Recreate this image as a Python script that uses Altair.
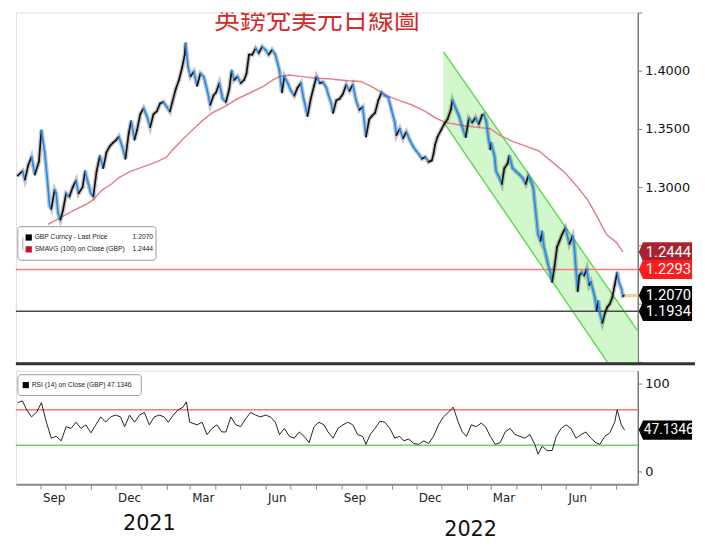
import altair as alt
import pandas as pd
import numpy as np

title_text = "英鎊兌美元日線圖"

price_dates = [
    "2020-08-04", "2020-08-10", "2020-08-13", "2020-08-17", "2020-08-21", "2020-08-25", "2020-08-30",
    "2020-09-02", "2020-09-06", "2020-09-10", "2020-09-12", "2020-09-14", "2020-09-18", "2020-09-20",
    "2020-09-22", "2020-09-25", "2020-09-28", "2020-10-02", "2020-10-06", "2020-10-10", "2020-10-14",
    "2020-10-17", "2020-10-22", "2020-10-25", "2020-10-29", "2020-11-01", "2020-11-04", "2020-11-08",
    "2020-11-12", "2020-11-16", "2020-11-20", "2020-11-24", "2020-11-28", "2020-12-02", "2020-12-05",
    "2020-12-09", "2020-12-13", "2020-12-17", "2020-12-20", "2020-12-24", "2020-12-27", "2020-12-31",
    "2021-01-04", "2021-01-08", "2021-01-12", "2021-01-16", "2021-01-20", "2021-01-24", "2021-01-28",
    "2021-02-01", "2021-02-05", "2021-02-08", "2021-02-12", "2021-02-16", "2021-02-20", "2021-02-23",
    "2021-02-24", "2021-02-27", "2021-03-02", "2021-03-06", "2021-03-10", "2021-03-14", "2021-03-18",
    "2021-03-22", "2021-03-26", "2021-03-30", "2021-04-02", "2021-04-06", "2021-04-10", "2021-04-14",
    "2021-04-18", "2021-04-21", "2021-04-24", "2021-04-28", "2021-05-02", "2021-05-06", "2021-05-09",
    "2021-05-12", "2021-05-16", "2021-05-20", "2021-05-24", "2021-05-28", "2021-06-01", "2021-06-05",
    "2021-06-09", "2021-06-13", "2021-06-15", "2021-06-18", "2021-06-21", "2021-06-24", "2021-06-28",
    "2021-07-02", "2021-07-06", "2021-07-10", "2021-07-14", "2021-07-17", "2021-07-20", "2021-07-22",
    "2021-07-26", "2021-07-30", "2021-08-02", "2021-08-06", "2021-08-10", "2021-08-14", "2021-08-16",
    "2021-08-20", "2021-08-22", "2021-08-26", "2021-08-30", "2021-09-03", "2021-09-07", "2021-09-11",
    "2021-09-15", "2021-09-19", "2021-09-23", "2021-09-27", "2021-10-01", "2021-10-05", "2021-10-08",
    "2021-10-12", "2021-10-16", "2021-10-20", "2021-10-24", "2021-10-28", "2021-11-01", "2021-11-05",
    "2021-11-07", "2021-11-11", "2021-11-15", "2021-11-19", "2021-11-23", "2021-11-27", "2021-12-01",
    "2021-12-04", "2021-12-08", "2021-12-12", "2021-12-16", "2021-12-20", "2021-12-22", "2021-12-24",
    "2021-12-27", "2021-12-31", "2022-01-04", "2022-01-08", "2022-01-12", "2022-01-14", "2022-01-18",
    "2022-01-22", "2022-01-26", "2022-01-30", "2022-02-03", "2022-02-07", "2022-02-11", "2022-02-15",
    "2022-02-19", "2022-02-21", "2022-02-24", "2022-02-27", "2022-03-01", "2022-03-02", "2022-03-06",
    "2022-03-08", "2022-03-12", "2022-03-15", "2022-03-18", "2022-03-22", "2022-03-24", "2022-03-28",
    "2022-04-01", "2022-04-05", "2022-04-09", "2022-04-13", "2022-04-16", "2022-04-19", "2022-04-22",
    "2022-04-24", "2022-04-26", "2022-04-28", "2022-05-01", "2022-05-03", "2022-05-05", "2022-05-08",
    "2022-05-10", "2022-05-13", "2022-05-15", "2022-05-18", "2022-05-21", "2022-05-24", "2022-05-27",
    "2022-05-31", "2022-06-03", "2022-06-05", "2022-06-09", "2022-06-11", "2022-06-13", "2022-06-15",
    "2022-06-17", "2022-06-20", "2022-06-23", "2022-06-26", "2022-06-29", "2022-07-01", "2022-07-04",
    "2022-07-06", "2022-07-08", "2022-07-10", "2022-07-12", "2022-07-15", "2022-07-18", "2022-07-21",
    "2022-07-24", "2022-07-27", "2022-07-30", "2022-08-02", "2022-08-04", "2022-08-07", "2022-08-09",
    "2022-08-11",
]
price_values = [
    1.3098, 1.3138, 1.3065, 1.3189, 1.3260, 1.3108, 1.3220,
    1.3488, 1.3300, 1.3000, 1.2837, 1.2813, 1.2976, 1.2946,
    1.2783, 1.2720, 1.2797, 1.2946, 1.2919, 1.3000, 1.3057,
    1.2946, 1.3000, 1.3138, 1.3027, 1.2946, 1.2920, 1.3138,
    1.3270, 1.3163, 1.3300, 1.3352, 1.3382, 1.3407, 1.3434,
    1.3352, 1.3244, 1.3463, 1.3569, 1.3407, 1.3488, 1.3626,
    1.3677, 1.3610, 1.3515, 1.3626, 1.3650, 1.3718, 1.3732,
    1.3690, 1.3650, 1.3732, 1.3840, 1.3920, 1.4032, 1.4138,
    1.4236, 1.4032, 1.3951, 1.3992, 1.3870, 1.3976, 1.3949,
    1.3840, 1.3707, 1.3789, 1.3813, 1.3894, 1.3759, 1.3732,
    1.3840, 1.4002, 1.3920, 1.3949, 1.3894, 1.3920, 1.3976,
    1.4138, 1.4138, 1.4192, 1.4152, 1.4206, 1.4179, 1.4138,
    1.4179, 1.4138, 1.4084, 1.4002, 1.3813, 1.3949, 1.3894,
    1.3827, 1.3786, 1.3854, 1.3894, 1.3772, 1.3677, 1.3610,
    1.3759, 1.3870, 1.3949, 1.3894, 1.3900, 1.3854, 1.3800,
    1.3718, 1.3637, 1.3745, 1.3759, 1.3800, 1.3880, 1.3827,
    1.3880, 1.3745, 1.3664, 1.3690, 1.3434, 1.3583, 1.3610,
    1.3637, 1.3745, 1.3813, 1.3786, 1.3772, 1.3664, 1.3556,
    1.3447, 1.3502, 1.3420, 1.3474, 1.3407, 1.3352, 1.3311,
    1.3285, 1.3244, 1.3258, 1.3217, 1.3230, 1.3285, 1.3366,
    1.3434, 1.3488, 1.3542, 1.3583, 1.3664, 1.3745, 1.3677,
    1.3610, 1.3515, 1.3430, 1.3590, 1.3556, 1.3596, 1.3542,
    1.3617, 1.3624, 1.3570, 1.3407, 1.3325, 1.3380, 1.3271,
    1.3136, 1.3081, 1.3027, 1.3163, 1.3203, 1.3271, 1.3163,
    1.3136, 1.3109, 1.3081, 1.3027, 1.3095, 1.3054, 1.3000,
    1.2864, 1.2729, 1.2593, 1.2539, 1.2620, 1.2485, 1.2404,
    1.2336, 1.2268, 1.2187, 1.2322, 1.2485, 1.2539, 1.2593,
    1.2648, 1.2566, 1.2512, 1.2580, 1.2485, 1.2295, 1.2106,
    1.2241, 1.2268, 1.2241, 1.2295, 1.2160, 1.2187, 1.2106,
    1.2051, 1.1943, 1.2024, 1.1916, 1.1835, 1.1916, 1.1970,
    1.1997, 1.2051, 1.2160, 1.2268, 1.2187, 1.2133, 1.2065,
    1.2070,
]

sma_dates = [
    "2020-09-10", "2020-09-26", "2020-10-10", "2020-10-26", "2020-11-04", "2020-11-14", "2020-11-26",
    "2020-12-05", "2020-12-19", "2021-01-04", "2021-01-20", "2021-02-01", "2021-02-08", "2021-02-20",
    "2021-03-04", "2021-03-16", "2021-03-28", "2021-04-12", "2021-04-28", "2021-05-14", "2021-05-30",
    "2021-06-10", "2021-06-18", "2021-06-30", "2021-07-16", "2021-08-01", "2021-08-16", "2021-09-09",
    "2021-09-25", "2021-10-10", "2021-10-26", "2021-11-10", "2021-11-26", "2021-12-12", "2021-12-24",
    "2022-01-05", "2022-01-16", "2022-01-28", "2022-02-13", "2022-03-01", "2022-03-12", "2022-03-28",
    "2022-04-13", "2022-04-29", "2022-05-15", "2022-05-31", "2022-06-15", "2022-06-27", "2022-07-08",
    "2022-07-20", "2022-08-01", "2022-08-09",
]
sma_values = [
    1.2680, 1.2742, 1.2797, 1.2851, 1.2892, 1.2973, 1.3027,
    1.3081, 1.3136, 1.3176, 1.3217, 1.3260, 1.3318, 1.3407,
    1.3488, 1.3569, 1.3637, 1.3690, 1.3759, 1.3813, 1.3867,
    1.3921, 1.3949, 1.3962, 1.3949, 1.3935, 1.3930, 1.3913,
    1.3908, 1.3854, 1.3786, 1.3745, 1.3705, 1.3650, 1.3596,
    1.3556, 1.3542, 1.3528, 1.3515, 1.3502, 1.3447, 1.3393,
    1.3352, 1.3311, 1.3217, 1.3122, 1.3000, 1.2892, 1.2756,
    1.2593, 1.2526, 1.2444,
]

rsi_dates = [
    "2020-08-04", "2020-08-10", "2020-08-15", "2020-08-21", "2020-08-27", "2020-09-02", "2020-09-08",
    "2020-09-14", "2020-09-20", "2020-09-26", "2020-10-02", "2020-10-08", "2020-10-14", "2020-10-20",
    "2020-10-26", "2020-11-01", "2020-11-07", "2020-11-13", "2020-11-19", "2020-11-25", "2020-12-01",
    "2020-12-07", "2020-12-12", "2020-12-18", "2020-12-24", "2020-12-30", "2021-01-05", "2021-01-11",
    "2021-01-17", "2021-01-23", "2021-01-29", "2021-02-03", "2021-02-09", "2021-02-15", "2021-02-21",
    "2021-02-25", "2021-03-01", "2021-03-10", "2021-03-16", "2021-03-22", "2021-03-28", "2021-04-03",
    "2021-04-09", "2021-04-14", "2021-04-20", "2021-04-26", "2021-05-02", "2021-05-08", "2021-05-14",
    "2021-05-20", "2021-05-26", "2021-06-01", "2021-06-07", "2021-06-13", "2021-06-18", "2021-06-24",
    "2021-06-30", "2021-07-06", "2021-07-12", "2021-07-18", "2021-07-24", "2021-07-30", "2021-08-05",
    "2021-08-11", "2021-08-16", "2021-08-22", "2021-08-28", "2021-09-03", "2021-09-09", "2021-09-15",
    "2021-09-21", "2021-09-27", "2021-10-01", "2021-10-06", "2021-10-12", "2021-10-18", "2021-10-24",
    "2021-10-30", "2021-11-05", "2021-11-11", "2021-11-16", "2021-11-22", "2021-11-28", "2021-12-04",
    "2021-12-10", "2021-12-16", "2021-12-22", "2021-12-28", "2022-01-03", "2022-01-09", "2022-01-15",
    "2022-01-21", "2022-01-26", "2022-01-31", "2022-02-06", "2022-02-12", "2022-02-18", "2022-02-23",
    "2022-03-01", "2022-03-07", "2022-03-13", "2022-03-19", "2022-03-25", "2022-03-31", "2022-04-06",
    "2022-04-12", "2022-04-18", "2022-04-24", "2022-04-28", "2022-05-03", "2022-05-09", "2022-05-15",
    "2022-05-20", "2022-05-26", "2022-06-01", "2022-06-07", "2022-06-13", "2022-06-19", "2022-06-25",
    "2022-07-01", "2022-07-07", "2022-07-12", "2022-07-18", "2022-07-24", "2022-07-30", "2022-08-02",
    "2022-08-07", "2022-08-11",
]
rsi_values = [
    78, 80, 70, 62, 67, 78, 56,
    38, 40, 35, 51, 49, 56, 49,
    53, 44, 53, 62, 56, 62, 64,
    62, 51, 64, 56, 64, 67, 53,
    62, 64, 62, 56, 64, 70, 73,
    79, 56, 53, 56, 42, 49, 53,
    45, 45, 62, 53, 51, 60, 67,
    64, 62, 64, 62, 56, 42, 49,
    40, 38, 45, 40, 33, 51, 56,
    53, 45, 38, 49, 53, 56, 53,
    42, 40, 31, 42, 49, 57, 56,
    49, 38, 40, 35, 37, 32, 31,
    35, 32, 40, 53, 62, 67, 73,
    56, 45, 40, 53, 51, 55, 51,
    40, 31, 33, 45, 49, 42, 40,
    38, 42, 31, 20, 29, 24, 24,
    40, 49, 53, 49, 38, 42, 45,
    38, 33, 31, 40, 44, 56, 70,
    53, 47.1346,
]

channel_dates = ["2022-01-03", "2022-08-27"]
channel_upper = [1.4163, 1.1767]
channel_lower = [1.3561, 1.1115]

level_values = [1.2293, 1.1934]
level_colors = ["#ff7a7a", "#4a4a4a"]

tag_values = [1.2444, 1.2293, 1.2070, 1.1934]
tag_labels = ["1.2444", "1.2293", "1.2070", "1.1934"]
tag_colors = ["#a8222f", "#ff1c1c", "#000000", "#000000"]

last_price_date = "2022-08-11"
last_price = 1.2070
last_rsi = 47.1346
rsi_levels = [70, 30]
rsi_level_colors = ["#ff7373", "#66d966"]

year_labels = ["2021", "2022"]
year_dates = ["2021-01-11", "2022-02-05"]

legend_rows = ["GBP Curncy - Last Price", "SMAVG (100) on Close (GBP)"]
legend_vals = ["1.2070", "1.2444"]
rsi_legend = "RSI (14) on Close (GBP) 47.1346"


def ms(s):
    return int(pd.Timestamp(s).value // 10**6)


W, H1, H2 = 630, 354, 115
SMALL = "Liberation Sans, Arial, sans-serif"
TAGFONT = "Roboto, sans-serif"

xs = alt.Scale(type="utc", domain=[ms("2020-08-02"), ms("2022-08-27")])
ys = alt.Scale(domain=[1.15, 1.45], zero=False, nice=False)
rs = alt.Scale(domain=[-14, 114], zero=False, nice=False)

yaxis = alt.Axis(
    orient="right", values=[1.15, 1.2, 1.25, 1.3, 1.35, 1.4, 1.45],
    labelExpr="(datum.value > 1.27 && datum.value < 1.42) ? format(datum.value, '.4f') : ''",
    title=None, grid=False, domainColor="#7a7a7a", domainWidth=1.5, tickColor="#7a7a7a",
    tickSize=4, labelFont="DejaVu Sans", labelFontSize=13, labelColor="#111", labelPadding=3,
)
raxis = alt.Axis(
    orient="right", values=[0, 50, 100],
    labelExpr="datum.value == 50 ? '' : datum.label",
    title=None, grid=False, domainColor="#7a7a7a", domainWidth=1.5, tickColor="#7a7a7a",
    tickSize=4, labelFont="DejaVu Sans", labelFontSize=13, labelColor="#111", labelPadding=3,
)
month_ticks = [ms(t) for t in pd.date_range("2020-08-01", "2022-08-01", freq="MS")]
xaxis = alt.Axis(
    values=month_ticks,
    labelExpr="utcmonth(datum.value) % 3 == 2 ? utcFormat(datum.value, '%b') : ''",
    labelAlign="left", labelOffset=2, labelFlush=False, labelOverlap=False,
    tickSize=5, domainColor="#8a8a8a", domainWidth=2, tickColor="#8a8a8a",
    grid=False, title=None, labelFont="DejaVu Sans", labelFontSize=12, labelColor="#222",
    labelPadding=3,
)

price_df = pd.DataFrame({"date": price_dates, "price": price_values})
seg = pd.DataFrame({
    "d0": price_dates[:-1], "d1": price_dates[1:],
    "p0": price_values[:-1], "p1": price_values[1:],
})
seg["col"] = np.where(seg["p1"] >= seg["p0"], "#111111", "#1a8cff")
sma_df = pd.DataFrame({"date": sma_dates, "sma": sma_values})
rsi_df = pd.DataFrame({"date": rsi_dates, "rsi": rsi_values})
chan_df = pd.DataFrame({"date": channel_dates, "up": channel_upper, "lo": channel_lower})
lev_df = pd.DataFrame({"v": level_values, "c": level_colors})
tag_df = pd.DataFrame({"v": tag_values, "t": tag_labels, "c": tag_colors})
last_df = pd.DataFrame({"date": [last_price_date], "v": [last_price]})
rlev_df = pd.DataFrame({"v": rsi_levels, "c": rsi_level_colors})
rtag_df = pd.DataFrame({"v": [last_rsi], "t": [f"{last_rsi:.4f}"]})
year_df = pd.DataFrame({"date": year_dates, "t": year_labels})

TAG_PATH = "M0,0 L0.16,-0.36 L2,-0.36 L2,0.36 L0.16,0.36 Z"


def deco_text(text, x, y, **kw):
    return alt.Chart(alt.Data(values=[{"t": text}])).mark_text(**kw).encode(
        x=alt.value(x), y=alt.value(y), text="t:N")


# ---------- top panel ----------
chan_area = alt.Chart(chan_df).mark_area(clip=True, color="#cdf6c6", opacity=0.9).encode(
    x=alt.X("date:T", scale=xs, axis=None),
    y=alt.Y("up:Q", scale=ys, axis=yaxis), y2="lo:Q")
chan_up = alt.Chart(chan_df).mark_line(clip=True, color="#5ad94e", strokeWidth=1.4).encode(
    x=alt.X("date:T", scale=xs, axis=None), y=alt.Y("up:Q", scale=ys, axis=yaxis))
chan_lo = alt.Chart(chan_df).mark_line(clip=True, color="#5ad94e", strokeWidth=1.4).encode(
    x=alt.X("date:T", scale=xs, axis=None), y=alt.Y("lo:Q", scale=ys, axis=yaxis))
levels = alt.Chart(lev_df).mark_rule(strokeWidth=1.5).encode(
    y=alt.Y("v:Q", scale=ys, axis=yaxis), color=alt.Color("c:N", scale=None))
sma = alt.Chart(sma_df).mark_line(color="#e2828b", strokeWidth=1.5).encode(
    x=alt.X("date:T", scale=xs, axis=None), y=alt.Y("sma:Q", scale=ys, axis=yaxis))
shadow = alt.Chart(price_df).mark_line(color="#333333", strokeWidth=4.5, opacity=0.28).encode(
    x=alt.X("date:T", scale=xs, axis=None), y=alt.Y("price:Q", scale=ys, axis=yaxis))
segs = alt.Chart(seg).mark_rule(strokeWidth=1.7, strokeCap="round").encode(
    x=alt.X("d0:T", scale=xs, axis=None), x2="d1:T",
    y=alt.Y("p0:Q", scale=ys, axis=yaxis), y2="p1:Q",
    color=alt.Color("col:N", scale=None))
last_line = alt.Chart(last_df).mark_rule(color="#ffc98f", strokeWidth=3).encode(
    x=alt.X("date:T", scale=xs, axis=None), x2=alt.value(W),
    y=alt.Y("v:Q", scale=ys, axis=yaxis))

leg_box = alt.Chart(alt.Data(values=[{}])).mark_rect(
    fill="white", stroke="#9a9a9a", strokeWidth=1, cornerRadius=3).encode(
    x=alt.value(2), x2=alt.value(142), y=alt.value(217), y2=alt.value(251))
leg_tree = alt.Chart(alt.Data(values=[{}])).mark_rule(color="#aaaaaa", strokeWidth=1).encode(
    x=alt.value(7), x2=alt.value(7), y=alt.value(228), y2=alt.value(241))
leg_sq1 = alt.Chart(alt.Data(values=[{}])).mark_square(size=40, color="#000", opacity=1).encode(
    x=alt.value(13), y=alt.value(228))
leg_sq2 = alt.Chart(alt.Data(values=[{}])).mark_square(size=40, color="#c8102e", opacity=1).encode(
    x=alt.value(13), y=alt.value(240))
leg_kw = dict(baseline="middle", font=SMALL, fontSize=6.8, color="#222")
leg_t = [
    deco_text(legend_rows[0], 19, 228, align="left", **leg_kw),
    deco_text(legend_rows[1], 19, 240, align="left", **leg_kw),
    deco_text(legend_vals[0], 139, 228, align="right", **leg_kw),
    deco_text(legend_vals[1], 139, 240, align="right", **leg_kw),
]

tag_layers = []
for i in range(len(tag_values)):
    d = tag_df.iloc[[i]]
    tag_layers.append(alt.Chart(d).mark_point(
        shape=TAG_PATH, size=2916, filled=True, opacity=1, strokeWidth=0).encode(
        x=alt.value(W + 1), y=alt.Y("v:Q", scale=ys, axis=yaxis),
        color=alt.Color("c:N", scale=None)))
    tag_layers.append(alt.Chart(d).mark_text(
        align="left", baseline="middle", font=TAGFONT, fontSize=15, color="white").encode(
        x=alt.value(W + 8), y=alt.Y("v:Q", scale=ys, axis=yaxis), text="t:N"))

title = deco_text(title_text, 305, 17, align="center", baseline="alphabetic",
                  font="Noto Sans CJK TC", fontSize=26, color="#d42a2a", clip=True)
separator = alt.Chart(alt.Data(values=[{}])).mark_rule(color="#333333", strokeWidth=3).encode(
    x=alt.value(0), x2=alt.value(W + 58), y=alt.value(H1 + 2))

top = alt.layer(
    chan_area, chan_up, chan_lo, levels, sma, shadow, segs, last_line,
    leg_box, leg_tree, leg_sq1, leg_sq2, *leg_t, *tag_layers, title, separator,
).properties(width=W, height=H1)

# ---------- RSI panel ----------
rlev = alt.Chart(rlev_df).mark_rule(strokeWidth=1.5).encode(
    y=alt.Y("v:Q", scale=rs, axis=raxis), color=alt.Color("c:N", scale=None))
rline = alt.Chart(rsi_df).mark_line(color="#222222", strokeWidth=1).encode(
    x=alt.X("date:T", scale=xs, axis=xaxis), y=alt.Y("rsi:Q", scale=rs, axis=raxis))
rleg_box = alt.Chart(alt.Data(values=[{}])).mark_rect(
    fill="white", stroke="#9a9a9a", strokeWidth=1, cornerRadius=3).encode(
    x=alt.value(2), x2=alt.value(127), y=alt.value(4), y2=alt.value(25))
rleg_sq = alt.Chart(alt.Data(values=[{}])).mark_square(size=40, color="#000", opacity=1).encode(
    x=alt.value(10), y=alt.value(14.5))
rleg_t = deco_text(rsi_legend, 16, 14.5, align="left", **leg_kw)
rtag = alt.Chart(rtag_df).mark_point(
    shape=TAG_PATH, size=2916, filled=True, opacity=1, strokeWidth=0, color="#000").encode(
    x=alt.value(W + 1), y=alt.Y("v:Q", scale=rs, axis=raxis))
rtag_t = alt.Chart(rtag_df).mark_text(
    align="left", baseline="middle", font=TAGFONT, fontSize=14, color="white").encode(
    x=alt.value(W + 6), y=alt.Y("v:Q", scale=rs, axis=raxis), text="t:N")
year1 = alt.Chart(year_df.iloc[[0]]).mark_text(
    align="center", baseline="middle", font="DejaVu Sans", fontSize=21, color="#111").encode(
    x=alt.X("date:T", scale=xs, axis=xaxis), y=alt.value(H2 + 40), text="t:N")
year2 = alt.Chart(year_df.iloc[[1]]).mark_text(
    align="center", baseline="middle", font="DejaVu Sans", fontSize=21, color="#111").encode(
    x=alt.X("date:T", scale=xs, axis=xaxis), y=alt.value(H2 + 46), text="t:N")

bottom = alt.layer(
    rlev, rline, rleg_box, rleg_sq, rleg_t, rtag, rtag_t, year1, year2,
).properties(width=W, height=H2)

chart = alt.vconcat(top, bottom, spacing=4).resolve_scale(
    x="independent", y="independent").properties(
    padding={"left": 0, "right": 0, "top": 0, "bottom": 0}
).configure_view(stroke=None).configure(background="white")

chart.save("out.html", embed_options={"renderer": "svg", "actions": False})
